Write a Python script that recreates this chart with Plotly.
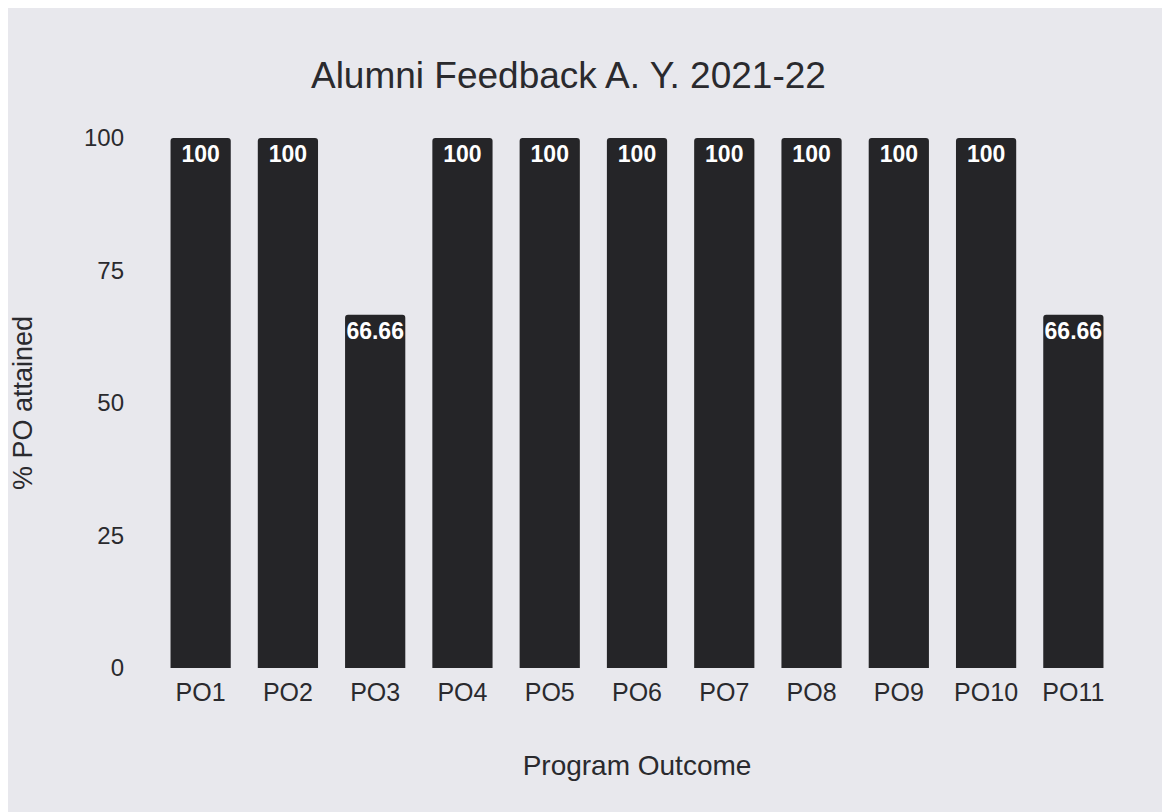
import plotly.graph_objects as go

categories = ["PO1", "PO2", "PO3", "PO4", "PO5", "PO6", "PO7", "PO8", "PO9", "PO10", "PO11"]
values = [100, 100, 66.66, 100, 100, 100, 100, 100, 100, 100, 66.66]
labels = ["100", "100", "66.66", "100", "100", "100", "100", "100", "100", "100", "66.66"]

fig = go.Figure(go.Bar(
    x=categories, y=values, text=labels, textposition="inside", insidetextanchor="end",
    marker=dict(color="#252528", line=dict(width=0)),
    textfont=dict(family="Liberation Sans, Arial", size=23, color="white", weight="bold"),
    textangle=0, constraintext="none", cliponaxis=False,
))

fig.update_layout(
    width=1170, height=812,
    paper_bgcolor="#e8e8ed", plot_bgcolor="#e8e8ed",
    margin=dict(l=146, r=61, t=130, b=152),
    bargap=0.31, barcornerradius=3,
    font=dict(family="Liberation Sans, Arial", color="#2a2a2e"),
    title=dict(text="Alumni Feedback A. Y. 2021-22", x=0.479, xanchor="center", y=0.918, yanchor="middle",
               font=dict(size=37, color="#2a2a2e")),
    showlegend=False,
)
fig.update_xaxes(showgrid=False, showline=False, ticks="", tickfont=dict(size=25), ticklabelstandoff=7,
                 title=dict(text="Program Outcome", font=dict(size=28), standoff=50))
fig.update_yaxes(range=[0, 100], tickvals=[0, 25, 50, 75, 100], showgrid=False, zeroline=False,
                 showline=False, ticks="", tickfont=dict(size=24), ticklabelstandoff=32,
                 title=dict(text="% PO attained", font=dict(size=27), standoff=45))

fig.write_html("out.html")
